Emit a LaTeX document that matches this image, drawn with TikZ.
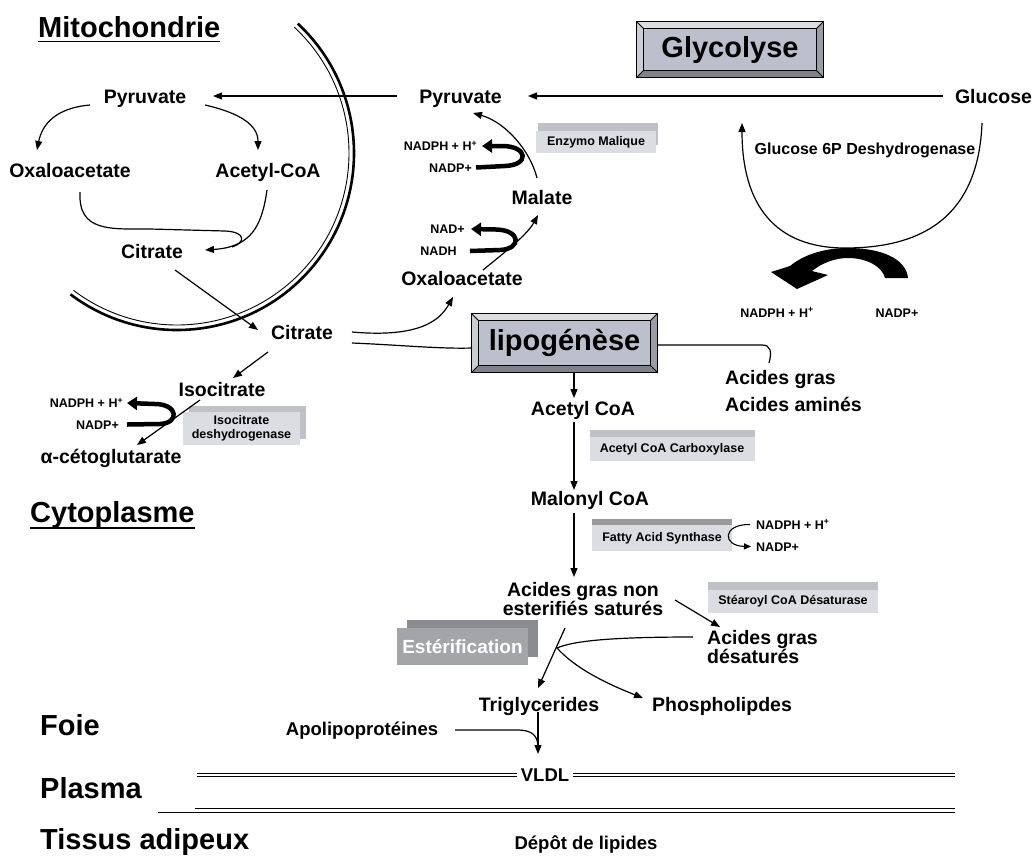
\documentclass[tikz,border=0pt]{standalone}
\usepackage{fontspec}
\setmainfont{Liberation Sans}
\usetikzlibrary{arrows.meta,shadows}
\pgfdeclarelayer{bottom}
\pgfdeclarelayer{background}
\pgfsetlayers{bottom,background,main}
\definecolor{face}{HTML}{BCC0CC}
\definecolor{bevtop}{HTML}{DCDDE3}
\definecolor{bevleft}{HTML}{CBCDD5}
\definecolor{bevbot}{HTML}{80828B}
\definecolor{bevright}{HTML}{9A9CA6}
\definecolor{enzfill}{HTML}{DCDDE2}
\definecolor{enzback}{HTML}{BFC1C6}
\definecolor{fasback}{HTML}{9A9A9E}
\definecolor{esterfront}{HTML}{A3A5A9}
\definecolor{esterback}{HTML}{8A8C91}
\newcommand\bevelframe[2]{%
 \begin{pgfonlayer}{background}
 \path (#1.north west) coordinate (bfNW) (#1.north east) coordinate (bfNE)
       (#1.south west) coordinate (bfSW) (#1.south east) coordinate (bfSE);
 \path ([shift={(#2,#2)}]bfNW) coordinate (biNW) ([shift={(-#2,#2)}]bfNE) coordinate (biNE)
       ([shift={(#2,-#2)}]bfSW) coordinate (biSW) ([shift={(-#2,-#2)}]bfSE) coordinate (biSE);
 \fill[bevtop] (bfNW) -- (bfNE) -- (biNE) -- (biNW) -- cycle;
 \fill[bevleft] (bfNW) -- (biNW) -- (biSW) -- (bfSW) -- cycle;
 \fill[bevbot] (bfSW) -- (biSW) -- (biSE) -- (bfSE) -- cycle;
 \fill[bevright] (bfNE) -- (bfSE) -- (biSE) -- (biNE) -- cycle;
 \fill[face] (biNW) rectangle (biSE);
 \draw[line width=1pt] (bfNW) -- (biNW) (bfNE) -- (biNE) (bfSW) -- (biSW) (bfSE) -- (biSE);
 \draw[line width=1.3pt] (bfNW) rectangle (bfSE);
 \draw[line width=1.3pt] (biNW) rectangle (biSE);
 \end{pgfonlayer}}
\begin{document}
\begin{tikzpicture}[x=1pt,y=-1pt,
  t/.style={font=\bfseries\fontsize{19.5}{19.5}\selectfont, inner sep=0pt, text height=14pt, text depth=0pt},
  ts/.style={font=\bfseries\fontsize{18.5}{18.5}\selectfont, inner sep=0pt, text height=13.3pt, text depth=0pt},
  big/.style={font=\bfseries\fontsize{29}{29}\selectfont, inner sep=0pt},
  sm/.style={font=\bfseries\fontsize{12.5}{12.5}\selectfont, inner sep=0pt, text height=9pt, text depth=0pt},
  conn/.style={line width=1.2pt},
  arr/.style={conn, -{Triangle[length=9pt,width=7pt]}},
  cofa/.style={line width=4.5pt, -{Triangle[length=10pt,width=13pt]}},
  enz/.style={font=\bfseries\fontsize{12.5}{14}\selectfont, fill=enzfill, inner sep=0pt, align=center},
  bevbox/.style={font=\bfseries\fontsize{29}{29}\selectfont, inner sep=0pt},
  dbl/.style={double, double distance=2.4pt, line width=0.9pt},
]
\useasboundingbox (0,0) rectangle (1035,855);
\begin{pgfonlayer}{bottom}
\fill[white] (0,0) rectangle (1035,855);
\end{pgfonlayer}

% membrane
\draw[line width=2.6pt] ([shift={(-47:177)}]177,153) arc[start angle=-47,end angle=127,radius=177];
\draw[line width=0.9pt] ([shift={(-47:172)}]177,153) arc[start angle=-47,end angle=127,radius=172];

% headings
\node[big, anchor=base west] (mito) at (38,37) {Mitochondrie};
\draw[line width=1.6pt] ([shift={(0,4.5)}]mito.base west) -- ([shift={(0,4.5)}]mito.base east);
\node[big, anchor=base west] (cyto) at (30,522) {Cytoplasme};
\draw[line width=1.6pt] ([shift={(0,6)}]cyto.base west) -- ([shift={(0,6)}]cyto.base east);
\node[big, anchor=base west] (foie) at (40,735) {Foie};
\node[big, anchor=base west] (plasma) at (40,798) {Plasma};
\node[big, anchor=base west] (tissus) at (40,849) {Tissus adipeux};

% bevel boxes
\node[bevbox, minimum width=186pt, minimum height=55pt] (glyc) at (730,49.5) {Glycolyse};
\bevelframe{glyc}{7}
\node[bevbox, minimum width=185pt, minimum height=58pt] (lipo) at (564.5,343) {lipogénèse};
\bevelframe{lipo}{7}

% metabolites
\node[t] (pyrL) at (145,96) {Pyruvate};
\node[t] (pyrM) at (460.5,96) {Pyruvate};
\node[t] (gluc) at (993.5,96) {Glucose};
\node[t] (oxaL) at (70,170) {Oxaloacetate};
\node[t] (acoaM) at (268,170) {Acetyl-CoA};
\node[t] (citM) at (152,251) {Citrate};
\node[t] (citC) at (302,332) {Citrate};
\node[t] (oxaC) at (462,278) {Oxaloacetate};
\node[t] (malate) at (542,197) {Malate};
\node[t] (iso) at (222,389) {Isocitrate};
\node[t] (akg) at (111,456) {α-cétoglutarate};
\node[t] (acCoA) at (583,408) {Acetyl CoA};
\node[t] (malCoA) at (590,498) {Malonyl CoA};
\node[t] (agn1) at (583,589) {Acides gras non};
\node[t] (agn2) at (583,608) {esterifiés saturés};
\node[t, anchor=west] (agd1) at (707,637) {Acides gras};
\node[t, anchor=west] (agd2) at (707,656) {désaturés};
\node[t] (trig) at (539,704.5) {Triglycerides};
\node[t] (phos) at (722,704) {Phospholipdes};
\node[ts] (apo) at (362,729) {Apolipoprotéines};
\node[ts] (vldl) at (545,775) {VLDL};
\node[ts] (dep) at (586,843) {Dépôt de lipides};
\node[t, anchor=west] (acg1) at (725,377.5) {Acides gras};
\node[t, anchor=west] (acg2) at (725,404.5) {Acides aminés};
\node[font=\bfseries\fontsize{16}{16}\selectfont, inner sep=0pt, text height=11.5pt, text depth=0pt] (g6pd) at (865,149) {Glucose 6P Deshydrogenase};

% cofactors
\node[sm] (nadphM) at (440.5,146) {NADPH + H\textsuperscript{+}};
\node[sm] (nadpM) at (450.5,167.5) {NADP+};
\node[sm] (nadM) at (447.5,229) {NAD+};
\node[sm] (nadhM) at (438.5,251) {NADH};
\node[sm] (nadphI) at (86.5,403) {NADPH + H\textsuperscript{+}};
\node[sm] (nadpI) at (97.5,424.5) {NADP+};
\node[sm] (nadphG) at (777,312.5) {NADPH + H\textsuperscript{+}};
\node[sm] (nadpG) at (897,312.5) {NADP+};
\node[sm, anchor=west] (nadphF) at (756,524.5) {NADPH + H\textsuperscript{+}};
\node[sm, anchor=west] (nadpF) at (756,546.5) {NADP+};

% enzyme labels
\node[enz, minimum width=120pt, minimum height=22pt, general shadow={fill=enzback, shadow xshift=2pt, shadow yshift=8pt}] (enzMal) at (596,142) {Enzymo Malique};
\node[enz, minimum width=117pt, minimum height=33pt, general shadow={fill=enzback, shadow xshift=6pt, shadow yshift=6pt}] (enzIso) at (241.5,428.5) {Isocitrate\\deshydrogenase};
\node[enz, minimum width=165pt, minimum height=24pt, general shadow={fill=enzback, shadow xshift=0pt, shadow yshift=7pt}] (enzACC) at (672,449) {Acetyl CoA Carboxylase};
\node[enz, minimum width=140pt, minimum height=26pt, general shadow={fill=fasback, shadow xshift=0pt, shadow yshift=6pt}] (enzFAS) at (662,538) {Fatty Acid Synthase};
\node[enz, minimum width=170pt, minimum height=23pt, general shadow={fill=enzback, shadow xshift=0pt, shadow yshift=8pt}] (enzSCD) at (793,601.5) {Stéaroyl CoA Désaturase};
\node[font=\bfseries\fontsize{19}{19}\selectfont, text=white, fill=esterfront, inner sep=0pt, minimum width=131pt, minimum height=37pt, general shadow={fill=esterback, shadow xshift=10pt, shadow yshift=8pt}] (ester) at (462.5,646.5) {Estérification};

% main arrows top
\draw[arr] ([shift={(-50.5,0)}]gluc.center) -- ([shift={(67.5,0)}]pyrM.center);
\draw[arr] ([shift={(-63.5,0)}]pyrM.center) -- ([shift={(68,0)}]pyrL.center);
\draw[arr] ([shift={(-55,9)}]pyrL.center) .. controls (55,108) and (42,125) .. ([shift={(-33,-20)}]oxaL.center);
\draw[arr] ([shift={(60,9)}]pyrL.center) .. controls (240,113) and (258,125) .. ([shift={(-10,-20)}]acoaM.center);
\draw[conn] ([shift={(10,22)}]oxaL.center) .. controls (78,232) and (110,229) .. (150,229) -- (225,231) .. controls (247,232) and (245,243) .. ([shift={(80,-4)}]citM.center);
\draw[arr] ([shift={(-1,20)}]acoaM.center) .. controls (262,225) and (252,247) .. ([shift={(53,-1)}]citM.center);
\draw[arr] ([shift={(23,19)}]citM.center) -- ([shift={(-44,-2)}]citC.center);
\draw[arr] ([shift={(50,0)}]citC.center) .. controls (420,338) and (440,320) .. ([shift={(-9,19)}]oxaC.center);
\draw[conn] ([shift={(50,11)}]citC.center) .. controls (400,345) and (440,349) .. ([shift={(-92.5,5)}]lipo.center);
\draw[conn] ([shift={(92.5,2)}]lipo.center) -- (762,345) .. controls (771,345) and (772,352) .. ([shift={(44,-14.5)}]acg1.west);
\draw[arr] ([shift={(-5,-19)}]malate.center) .. controls (530,150) and (505,122) .. ([shift={(12.5,17)}]pyrM.center);
\draw[arr] ([shift={(21,-8)}]oxaC.center) .. controls (505,252) and (527,235) .. ([shift={(-4,18)}]malate.center);

% cofactor arrows
\draw[cofa] ([shift={(25.5,0)}]nadpM.center) -- (505,166) .. controls (530,165) and (528,146) .. (502,146) -- ([shift={(41.5,0)}]nadphM.center);
\draw[cofa] ([shift={(31.5,0)}]nadhM.center) -- (500,250) .. controls (522,249) and (521,230) .. (496,229.5) -- ([shift={(23.5,0)}]nadM.center);
\draw[cofa] ([shift={(29.5,0)}]nadpI.center) -- (160,424) .. controls (180,423) and (178,404) .. (155,404) -- ([shift={(40.5,0)}]nadphI.center);

% isocitrate branch
\draw[arr] ([shift={(-34,20)}]citC.center) -- ([shift={(11,-11)}]iso.center);
\draw[arr] ([shift={(-22,11)}]iso.center) -- ([shift={(26,-11)}]akg.center);

% lipogenesis chain
\draw[arr] ([shift={(9.5,29)}]lipo.center) -- ([shift={(-9,-10)}]acCoA.center);
\draw[arr] ([shift={(-9,14)}]acCoA.center) -- ([shift={(-16,-8)}]malCoA.center);
\draw[arr] ([shift={(-16,15)}]malCoA.center) -- ([shift={(-9,-12)}]agn1.center);
\draw[arr] ([shift={(92,-8)}]agn2.center) -- ([shift={(13,-10)}]agd1.west);
\coordinate (J) at (557,648);
\draw[arr] ([shift={(-18,20)}]agn2.center) -- ([shift={(-1,-16.5)}]trig.center);
\draw[conn] ([shift={(-14,0)}]agd1.west) .. controls (620,637) and (575,640) .. (J);
\draw[arr] (J) .. controls (575,668) and (605,683) .. ([shift={(-79,-6)}]phos.center);
\draw[conn] ([shift={(93,1)}]apo.center) -- (517,730) .. controls (533,730) and (538,736) .. ([shift={(-7,-27)}]vldl.center);
\draw[arr] ([shift={(-1,7.5)}]trig.center) -- ([shift={(-7,-21)}]vldl.center);
\draw[-{Triangle[length=7pt,width=6pt]}, line width=1.1pt] ([shift={(-6,0)}]nadphF.west) .. controls (722,524) and (722,546) .. ([shift={(-5,0)}]nadpF.west);

% glucose 6P deshydrogenase
\coordinate (g6end) at (742,123);
\draw[arr] ([shift={(-11.5,27)}]gluc.center) .. controls (978,230) and (905,248) .. (845,248) .. controls (775,248) and (742,205) .. (g6end);
\fill (908,278) .. controls (906,258) and (880,248) .. (848,248) .. controls (822,248) and (802,256) .. (790,266) -- (771,272) -- (797,289) -- (828,275) -- (812,271) .. controls (822,263) and (835,258) .. (848,258) .. controls (866,258) and (882,266) .. (885,278) -- cycle;

% compartment lines
\draw[dbl] (197,775) -- ([shift={(-4,0)}]vldl.west);
\draw[dbl] ([shift={(4,0)}]vldl.east) -- (955,775);
\draw[dbl] (195,810.5) -- (955,810.5);
\draw[line width=1.2pt] (158,812.5) -- (195,812.5);
\end{tikzpicture}
\end{document}
